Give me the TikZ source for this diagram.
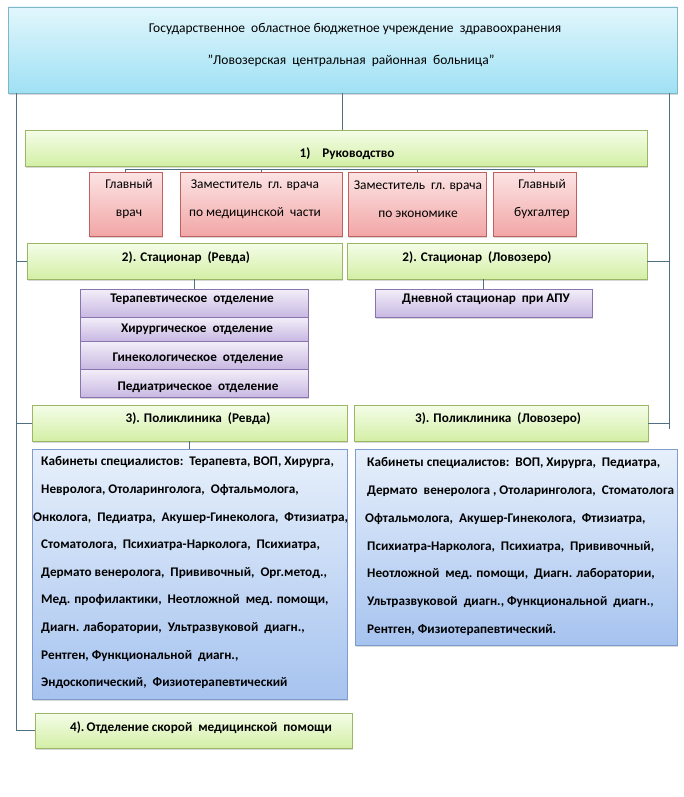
\documentclass[tikz,border=0pt]{standalone}
\usepackage{fontspec}
\setmainfont{Carlito}
\usetikzlibrary{shadows,calc}
\definecolor{hdrtop}{HTML}{E2F6FC}
\definecolor{hdrbot}{HTML}{9FE1F4}
\definecolor{hdrline}{HTML}{7FB7C8}
\definecolor{grntop}{HTML}{F5FDE8}
\definecolor{grnbot}{HTML}{D3EFA6}
\definecolor{grnline}{HTML}{9BB766}
\definecolor{pnktop}{HTML}{FCE4E4}
\definecolor{pnkbot}{HTML}{F2A6A6}
\definecolor{pnkline}{HTML}{C06060}
\definecolor{prptop}{HTML}{F3EFF9}
\definecolor{prpbot}{HTML}{C8B8E2}
\definecolor{prpline}{HTML}{8A74AD}
\definecolor{blutop}{HTML}{E7F0FB}
\definecolor{blubot}{HTML}{A6C3EF}
\definecolor{bluline}{HTML}{7F9CCC}
\definecolor{conncol}{HTML}{4F6F82}
\begin{document}
\begin{tikzpicture}[x=1pt,y=-1pt,
  box/.style={draw, line width=0.8pt, inner sep=0pt, outer sep=0pt, anchor=north west,
    drop shadow={opacity=0.3, shadow xshift=1pt, shadow yshift=-2pt}},
  hdrbox/.style={box, draw=hdrline, top color=hdrtop, bottom color=hdrbot},
  grnbox/.style={box, draw=grnline, top color=grntop, bottom color=grnbot},
  pnkbox/.style={box, draw=pnkline, top color=pnktop, bottom color=pnkbot},
  prpbox/.style={box, draw=prpline, top color=prptop, bottom color=prpbot},
  blubox/.style={box, draw=bluline, top color=blutop, bottom color=blubot},
  txt/.style={inner sep=0pt, font=\bfseries\fontsize{13.2}{15}\selectfont},
  rtxt/.style={inner sep=0pt, font=\fontsize{13.5}{15}\selectfont},
  ptxt/.style={inner sep=0pt, align=center, font=\fontsize{13.4}{28}\selectfont},
  ltxt/.style={inner sep=0pt, align=left, anchor=north west},
  conn/.style={draw=conncol, line width=0.8pt}]
\useasboundingbox[fill=white] (0,0) rectangle (684,797);

% boxes
\node[hdrbox, minimum width=669pt, minimum height=86pt] (hdr) at (8,7) {};
\node[grnbox, minimum width=622pt, minimum height=36pt] (ruk) at (25,130) {};
\node[pnkbox, minimum width=73pt, minimum height=64pt] (pk1) at (89,172) {};
\node[pnkbox, minimum width=162pt, minimum height=64pt] (pk2) at (180,172) {};
\node[pnkbox, minimum width=138pt, minimum height=64pt] (pk3) at (348,172) {};
\node[pnkbox, minimum width=83pt, minimum height=64pt] (pk4) at (493,172) {};
\node[grnbox, minimum width=315pt, minimum height=36pt] (stR) at (27,243) {};
\node[grnbox, minimum width=300pt, minimum height=36pt] (stL) at (347,243) {};
\node[prpbox, minimum width=228pt, minimum height=28pt] (d1) at (80,289) {};
\node[prpbox, minimum width=228pt, minimum height=24pt] (d2) at (80,317) {};
\node[prpbox, minimum width=228pt, minimum height=28pt] (d3) at (80,341) {};
\node[prpbox, minimum width=228pt, minimum height=28pt] (d4) at (80,369) {};
\node[prpbox, minimum width=217pt, minimum height=28pt] (dn) at (375,289) {};
\node[grnbox, minimum width=315pt, minimum height=36pt] (polR) at (32,405) {};
\node[grnbox, minimum width=294pt, minimum height=36pt] (polL) at (354,405) {};
\node[blubox, minimum width=315pt, minimum height=250pt] (cabR) at (32,449) {};
\node[blubox, minimum width=322pt, minimum height=196pt] (cabL) at (355,449) {};
\node[grnbox, minimum width=317pt, minimum height=35pt] (skor) at (35,713) {};

% connector guides
\coordinate (lv) at (16,100);
\coordinate (rv) at (669,100);

% connectors
\draw[conn] (hdr.south) -- (hdr.south |- ruk.north);
\draw[conn] (hdr.south -| lv) -- (lv |- skor.west) -- (skor.west);
\draw[conn] (lv |- stR.west) -- (stR.west);
\draw[conn] (lv |- polR.west) -- (polR.west);
\draw[conn] (hdr.south -| rv) -- ($(rv |- polL.east)+(0,6)$);
\draw[conn] (rv |- stL.east) -- (stL.east);
\draw[conn] (rv |- polL.east) -- (polL.east);
\draw[conn] (pk1.north) -- ++(0,-3) -| (pk4.north);
\draw[conn] (pk2.north) -- ++(0,-3);
\draw[conn] (pk3.north) -- ++(0,-3);
\draw[conn] (stR.south -| d1.north) -- (d1.north);
\draw[conn] (stL.south -| dn.north) -- (dn.north);
\draw[conn] (polR.south -| cabR.north) -- (cabR.north);

% texts
\node[rtxt] (th1) at (355,29) {Государственное\ \ областное бюджетное учреждение\ \ здравоохранения};
\node[rtxt] (th2) at (351,61) {\symbol{34}Ловозерская\ \ центральная\ \ районная\ \ больница\symbol{34}};
\node[txt] (truk) at (347,154) {1)\ \ \ \ Руководство};
\node[ptxt] (tp1) at (129,199) {Главный\\врач};
\node[ptxt] (tp2) at (255,199) {Заместитель\ \ гл. врача\\по медицинской\ \ части};
\node[ptxt] (tp3) at (418,199) {Заместитель\ \ гл. врача\\по экономике};
\node[ptxt] (tp4) at (542,199) {Главный\\бухгалтер};
\node[txt] (tstR) at (186,258) {2). Стационар\ \ (Ревда)};
\node[txt] (tstL) at (477,258) {2). Стационар\ \ (Ловозеро)};
\node[txt] (td1) at (192,299) {Терапевтическое\ \ отделение};
\node[txt] (td2) at (197,329) {Хирургическое\ \ отделение};
\node[txt] (td3) at (198,358) {Гинекологическое\ \ отделение};
\node[txt] (td4) at (198,387) {Педиатрическое\ \ отделение};
\node[txt] (tdn) at (486,299) {Дневной стационар\ \ при АПУ};
\node[txt] (tpolR) at (198,419) {3). Поликлиника\ \ (Ревда)};
\node[txt] (tpolL) at (498,419) {3). Поликлиника\ \ (Ловозеро)};
\node[txt, ltxt, font=\bfseries\fontsize{13.2}{27.6}\selectfont] (tcabR) at (41,456.5) {%
Кабинеты специалистов:\ \ Терапевта, ВОП, Хирурга,\\
Невролога, Отоларинголога,\ \ Офтальмолога,\\
\hspace*{-8pt}Онколога,\ \ Педиатра,\ \ Акушер-Гинеколога,\ \ Фтизиатра,\\
Стоматолога,\ \ Психиатра-Нарколога,\ \ Психиатра,\\
Дермато венеролога,\ \ Прививочный,\ \ Орг.метод.,\\
Мед. профилактики,\ \ Неотложной\ \ мед. помощи,\\
Диагн. лаборатории,\ \ Ультразвуковой\ \ диагн.,\\
Рентген, Функциональной\ \ диагн.,\\
Эндоскопический,\ \ Физиотерапевтический};
\node[txt, ltxt, font=\bfseries\fontsize{13.2}{27.8}\selectfont] (tcabL) at (367,457.4) {%
Кабинеты специалистов:\ \ ВОП, Хирурга,\ \ Педиатра,\\
Дермато\ \ венеролога , Отоларинголога,\ \ Стоматолога\\
\hspace*{-2pt}Офтальмолога,\ \ Акушер-Гинеколога,\ \ Фтизиатра,\\
Психиатра-Нарколога,\ \ Психиатра,\ \ Прививочный,\\
Неотложной\ \ мед. помощи,\ \ Диагн. лаборатории,\\
Ультразвуковой\ \ диагн., Функциональной\ \ диагн.,\\
Рентген, Физиотерапевтический.};
\node[txt] (tskor) at (201,728) {4).\,Отделение скорой\ \ медицинской\ \ помощи};
\end{tikzpicture}
\end{document}
